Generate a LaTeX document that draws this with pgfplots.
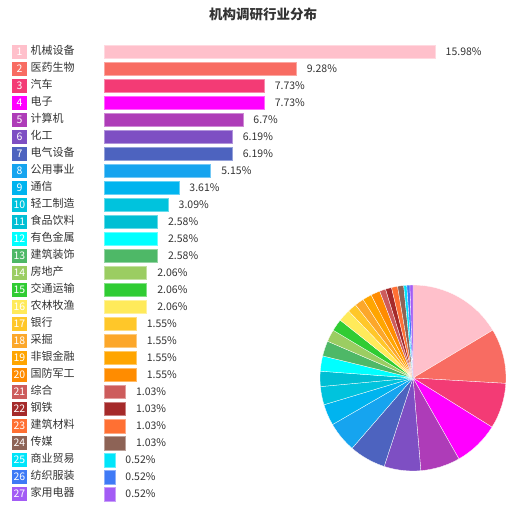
\documentclass[border=0pt]{standalone}
\usepackage{pgfplots}
\pgfplotsset{compat=1.18}
\usepackage{fontspec}
\setmainfont{Noto Sans CJK SC}
\definecolor{txt}{HTML}{333333}
\definecolor{c1}{HTML}{FFC0CB}
\definecolor{c2}{HTML}{F86C62}
\definecolor{c3}{HTML}{F33B75}
\definecolor{c4}{HTML}{FF00FF}
\definecolor{c5}{HTML}{AE3CB8}
\definecolor{c6}{HTML}{7E4FC3}
\definecolor{c7}{HTML}{4D63BF}
\definecolor{c8}{HTML}{16A4EF}
\definecolor{c9}{HTML}{00B4EF}
\definecolor{c10}{HTML}{00C3DD}
\definecolor{c11}{HTML}{00BFD4}
\definecolor{c12}{HTML}{00FFFF}
\definecolor{c13}{HTML}{4EB867}
\definecolor{c14}{HTML}{9BCD62}
\definecolor{c15}{HTML}{30CC33}
\definecolor{c16}{HTML}{FFEA5A}
\definecolor{c17}{HTML}{FFC729}
\definecolor{c18}{HTML}{FCA72A}
\definecolor{c19}{HTML}{FFA500}
\definecolor{c20}{HTML}{FF8C00}
\definecolor{c21}{HTML}{CD5C5C}
\definecolor{c22}{HTML}{A52A2A}
\definecolor{c23}{HTML}{FF7033}
\definecolor{c24}{HTML}{8D6356}
\definecolor{c25}{HTML}{00E5FA}
\definecolor{c26}{HTML}{3F7AF6}
\definecolor{c27}{HTML}{A35CF5}
\newcommand\badge[2]{{\setlength{\fboxsep}{0pt}\colorbox{#1}{\parbox[c][14pt][c]{14.5pt}{\centering\color{white}\fontsize{10.5}{10.5}\selectfont #2}}}}
\newcommand\cat[2]{\badge{c#1}{#1}\hspace{4pt}\color{txt}#2}
\begin{document}
\begin{tikzpicture}
\path[use as bounding box] (0,0) rectangle (521pt,513pt);
\begin{axis}[at={(104pt,10.5pt)}, anchor=south west, scale only axis,
  width=331.4pt, height=459.3pt, xmin=0, xmax=16, ymin=0.5, ymax=27.5,
  y dir=reverse, xbar, bar width=13.5pt, bar shift=0pt,
  hide x axis, axis y line*=left, y axis line style={draw=none},
  major tick length=0pt, clip=false,
  point meta=x, /pgf/number format/assume math mode=true,
  nodes near coords={\pgfmathprintnumber{\pgfplotspointmeta}\%},
  nodes near coords style={anchor=west, inner sep=0pt, xshift=10.5pt, font=\fontsize{10.5}{12}\selectfont, text=txt},
  ytick={1,...,27},
  yticklabels={\cat{1}{机械设备},\cat{2}{医药生物},\cat{3}{汽车},\cat{4}{电子},\cat{5}{计算机},\cat{6}{化工},\cat{7}{电气设备},\cat{8}{公用事业},\cat{9}{通信},\cat{10}{轻工制造},\cat{11}{食品饮料},\cat{12}{有色金属},\cat{13}{建筑装饰},\cat{14}{房地产},\cat{15}{交通运输},\cat{16}{农林牧渔},\cat{17}{银行},\cat{18}{采掘},\cat{19}{非银金融},\cat{20}{国防军工},\cat{21}{综合},\cat{22}{钢铁},\cat{23}{建筑材料},\cat{24}{传媒},\cat{25}{商业贸易},\cat{26}{纺织服装},\cat{27}{家用电器}},
  yticklabel style={anchor=west, inner sep=0pt, xshift=-92pt, font=\fontsize{11}{12}\selectfont, text=txt},
  title={\bfseries 机构调研行业分布},
  title style={at={(0.5,1)}, anchor=center, yshift=22.5pt, xshift=-6.5pt, font=\fontsize{13.5}{14}\selectfont, text=txt}
]
\addplot[fill=c1, draw=c1!60!white] coordinates {(15.98,1)};
\addplot[fill=c2, draw=c2!60!white] coordinates {(9.28,2)};
\addplot[fill=c3, draw=c3!60!white] coordinates {(7.73,3)};
\addplot[fill=c4, draw=c4!60!white] coordinates {(7.73,4)};
\addplot[fill=c5, draw=c5!60!white] coordinates {(6.7,5)};
\addplot[fill=c6, draw=c6!60!white] coordinates {(6.19,6)};
\addplot[fill=c7, draw=c7!60!white] coordinates {(6.19,7)};
\addplot[fill=c8, draw=c8!60!white] coordinates {(5.15,8)};
\addplot[fill=c9, draw=c9!60!white] coordinates {(3.61,9)};
\addplot[fill=c10, draw=c10!60!white] coordinates {(3.09,10)};
\addplot[fill=c11, draw=c11!60!white] coordinates {(2.58,11)};
\addplot[fill=c12, draw=c12!60!white] coordinates {(2.58,12)};
\addplot[fill=c13, draw=c13!60!white] coordinates {(2.58,13)};
\addplot[fill=c14, draw=c14!60!white] coordinates {(2.06,14)};
\addplot[fill=c15, draw=c15!60!white] coordinates {(2.06,15)};
\addplot[fill=c16, draw=c16!60!white] coordinates {(2.06,16)};
\addplot[fill=c17, draw=c17!60!white] coordinates {(1.55,17)};
\addplot[fill=c18, draw=c18!60!white] coordinates {(1.55,18)};
\addplot[fill=c19, draw=c19!60!white] coordinates {(1.55,19)};
\addplot[fill=c20, draw=c20!60!white] coordinates {(1.55,20)};
\addplot[fill=c21, draw=c21!60!white] coordinates {(1.03,21)};
\addplot[fill=c22, draw=c22!60!white] coordinates {(1.03,22)};
\addplot[fill=c23, draw=c23!60!white] coordinates {(1.03,23)};
\addplot[fill=c24, draw=c24!60!white] coordinates {(1.03,24)};
\addplot[fill=c25, draw=c25!60!white] coordinates {(0.52,25)};
\addplot[fill=c26, draw=c26!60!white] coordinates {(0.52,26)};
\addplot[fill=c27, draw=c27!60!white] coordinates {(0.52,27)};
\end{axis}
\begin{axis}[at={(320pt,42pt)}, anchor=south west, scale only axis,
  width=186pt, height=186pt, xmin=-1, xmax=1, ymin=-1, ymax=1, hide axis, clip=false]
\xdef\cum{0}
\foreach \v [count=\i] in {15.98,9.28,7.73,7.73,6.7,6.19,6.19,5.15,3.61,3.09,2.58,2.58,2.58,2.06,2.06,2.06,1.55,1.55,1.55,1.55,1.03,1.03,1.03,1.03,0.52,0.52,0.52} {
  \pgfmathsetmacro\a{90-\cum/97.45*360}
  \pgfmathsetmacro\b{90-(\cum+\v)/97.45*360}
  \pgfmathsetmacro\ca{cos(\a)}
  \pgfmathsetmacro\sa{sin(\a)}
  \edef\temp{\noexpand\fill[c\i, draw=white, line width=0.3pt] (axis cs:0,0) -- (axis cs:\ca,\sa) arc[start angle=\a, end angle=\b, radius=93pt] -- cycle;}
  \temp
  \pgfmathsetmacro\nc{\cum+\v}
  \xdef\cum{\nc}
}
\end{axis}
\end{tikzpicture}
\end{document}
